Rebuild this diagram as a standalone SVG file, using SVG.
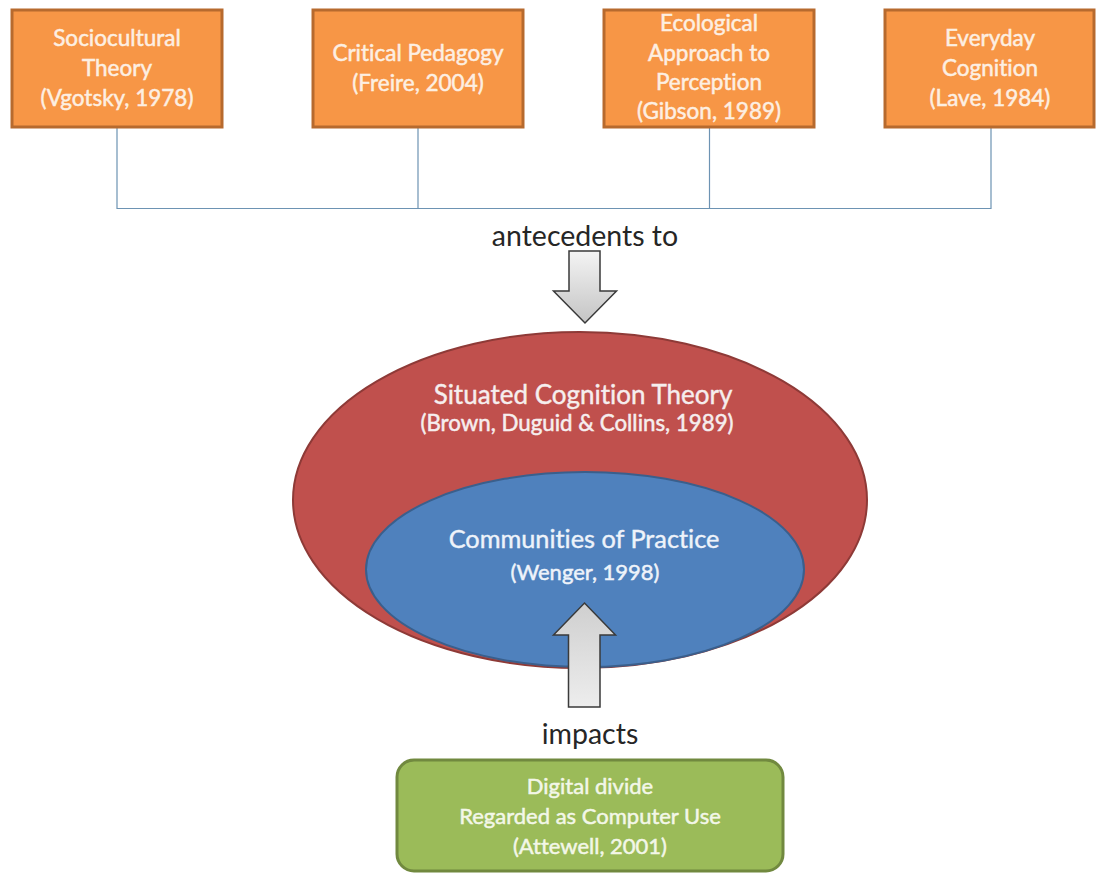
<svg xmlns="http://www.w3.org/2000/svg" width="1096" height="873" viewBox="0 0 1096 873">
  <style>
    text { font-family: Lato, "Liberation Sans", sans-serif; text-anchor: middle; font-variant-ligatures: none; font-feature-settings: "liga" 0, "clig" 0; }
    .box { fill: #f79646; stroke: #b76a2e; stroke-width: 3; }
    .boxtxt { font-size: 22.5px; fill: #fdefe2; stroke: #fdefe2; stroke-width: 0.5; }
    .link { fill: none; stroke: #6d93b3; stroke-width: 1.2; }
    .label { font-size: 28.5px; fill: #262626; }
    .big { font-size: 26px; fill: #f6eeee; stroke: #f6eeee; stroke-width: 0.4; }
    .blue-big { font-size: 25.3px; fill: #eef3fa; stroke: #eef3fa; stroke-width: 0.4; }
    .small { font-size: 22.3px; fill: #f6eeee; stroke: #f6eeee; stroke-width: 0.5; }
    .blue-small { font-size: 22px; fill: #eef3fa; stroke: #eef3fa; stroke-width: 0.5; }
    .arrow { stroke: #3a3a3a; stroke-width: 1.5; stroke-linejoin: miter; }
    .gtxt { font-size: 22px; fill: #f3f7e8; stroke: #f3f7e8; stroke-width: 0.5; }
  </style>
  <defs>
    <linearGradient id="greyDown" x1="0" y1="0" x2="0" y2="1">
      <stop offset="0" stop-color="#f4f4f4"/>
      <stop offset="1" stop-color="#c4c4c4"/>
    </linearGradient>
    <linearGradient id="greyUp" x1="0" y1="1" x2="0" y2="0">
      <stop offset="0" stop-color="#ededed"/>
      <stop offset="1" stop-color="#cfcfcf"/>
    </linearGradient>
  </defs>
  <rect width="1096" height="873" fill="#ffffff"/>

  <!-- connectors joining the four source boxes -->
  <g id="connectors">
    <path class="link" d="M117 127 V208.5 H991 V127"/>
    <path class="link" d="M418 127 V208.5"/>
    <path class="link" d="M709.5 127 V208.5"/>
  </g>

  <g id="sociocultural">
    <rect class="box" x="12" y="10" width="210" height="117"/>
    <text class="boxtxt" x="117" y="46">Sociocultural</text>
    <text class="boxtxt" x="117" y="76">Theory</text>
    <text class="boxtxt" x="117" y="106">(Vgotsky, 1978)</text>
  </g>
  <g id="critical-pedagogy">
    <rect class="box" x="313" y="10" width="210" height="117"/>
    <text class="boxtxt" x="418" y="61">Critical Pedagogy</text>
    <text class="boxtxt" x="418" y="91">(Freire, 2004)</text>
  </g>
  <g id="ecological">
    <rect class="box" x="604" y="10" width="210" height="117"/>
    <text class="boxtxt" x="709" y="31">Ecological</text>
    <text class="boxtxt" x="709" y="61">Approach to</text>
    <text class="boxtxt" x="709" y="90">Perception</text>
    <text class="boxtxt" x="709" y="119">(Gibson, 1989)</text>
  </g>
  <g id="everyday">
    <rect class="box" x="885" y="10" width="209" height="117"/>
    <text class="boxtxt" x="990" y="46">Everyday</text>
    <text class="boxtxt" x="990" y="76">Cognition</text>
    <text class="boxtxt" x="990" y="106">(Lave, 1984)</text>
  </g>

  <g id="antecedents">
    <text class="label" x="585" y="246">antecedents to</text>
    <path class="arrow" fill="url(#greyDown)" d="M569 251 H600 V291 H616.5 L585 323 L553.5 291 H569 Z"/>
  </g>

  <g id="situated-cognition">
    <ellipse cx="580" cy="500" rx="287" ry="168" fill="#c0504d" stroke="#8e3a37" stroke-width="2"/>
    <text class="big" x="583" y="404">Situated Cognition Theory</text>
    <text class="small" x="577" y="431">(Brown, Duguid &amp; Collins, 1989)</text>
  </g>

  <g id="communities">
    <ellipse cx="585" cy="569.5" rx="219" ry="97.5" fill="#4f81bd" stroke="#3a5f8c" stroke-width="2"/>
    <text class="blue-big" x="584" y="548">Communities of Practice</text>
    <text class="blue-small" x="585" y="580">(Wenger, 1998)</text>
  </g>

  <g id="impacts">
    <path class="arrow" fill="url(#greyUp)" d="M568.5 707 H600 V635 H615.5 L584.5 603 L553.5 635 H568.5 Z"/>
    <text class="label" x="590" y="744">impacts</text>
  </g>

  <g id="digital-divide">
    <rect x="397" y="760" width="386" height="111" rx="17" fill="#9bbb59" stroke="#71893f" stroke-width="3"/>
    <text class="gtxt" x="590" y="794">Digital divide</text>
    <text class="gtxt" x="590" y="824">Regarded as Computer Use</text>
    <text class="gtxt" x="590" y="854">(Attewell, 2001)</text>
  </g>
</svg>
